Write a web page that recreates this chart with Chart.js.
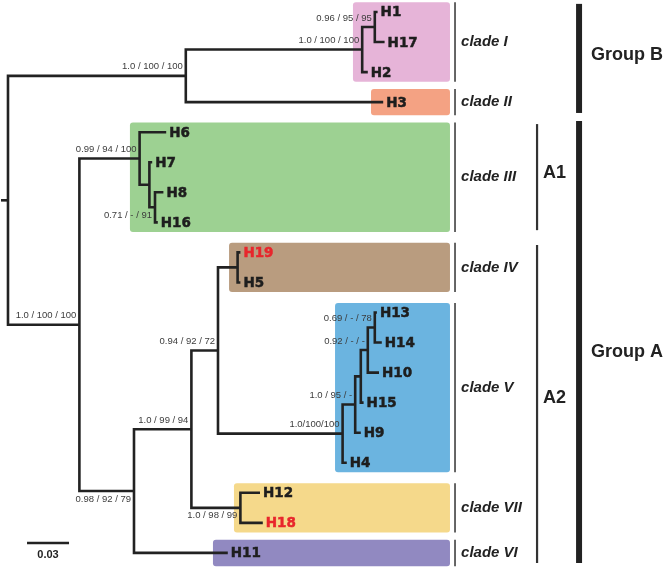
<!DOCTYPE html>
<html>
<head>
<meta charset="utf-8">
<script src="https://cdn.jsdelivr.net/npm/chart.js@4.4.1/dist/chart.umd.min.js"></script>
<style>
    html, body { margin: 0; padding: 0; background: #fff; }
    #wrap { width: 671px; height: 567px; }
</style>
</head>
<body>
<div id="wrap"><canvas id="tree" width="671" height="567"></canvas></div>
<script>
// leaves, top to bottom
const leafOrder = ['H1', 'H17', 'H2', 'H3', 'H6', 'H7', 'H8', 'H16', 'H19', 'H5',
    'H13', 'H14', 'H10', 'H15', 'H9', 'H4', 'H12', 'H18', 'H11'];
const redLeaves = ['H19', 'H18'];

// tree: node, parent, branch length (substitutions/site)
const nodeNames = ['root', 'B', 'I', 'I1', 'H1', 'H17', 'H2', 'H3',
    'A', 'III', 'H6', 'III1', 'H7', 'III2', 'H8', 'H16',
    'A2', 'X', 'H11', 'Y', 'VII', 'H12', 'H18', 'IV', 'H19', 'H5',
    'V', 'Va', 'H4', 'Vb', 'H9', 'Vc', 'H15', 'Vd', 'H10', 'H13', 'H14'];
const nodeParents = [null, 'root', 'B', 'I', 'I1', 'I1', 'I', 'B',
    'root', 'A', 'III', 'III', 'III1', 'III1', 'III2', 'III2',
    'A', 'A2', 'A2', 'X', 'X', 'VII', 'VII', 'Y', 'IV', 'IV',
    'Y', 'V', 'V', 'Va', 'Va', 'Vb', 'Vb', 'Vc', 'Vc', 'Vd', 'Vd'];
const branchLengths = [0, 0.127, 0.126, 0.009, 0.002, 0.007, 0.004, 0.141,
    0.051, 0.043, 0.019, 0.007, 0.002, 0.004, 0.006, 0.002,
    0.039, 0.041, 0.067, 0.019, 0.035, 0.014, 0.016, 0.014, 0.002, 0.002,
    0.089, 0.009, 0.003, 0.004, 0.004, 0.005, 0.002, 0.005, 0.008, 0.0015, 0.005];

// support values (PP / ML / MP)
const supportNodes = ['I1', 'I', 'B', 'III', 'III2', 'A', 'Y', 'Vd', 'Vc', 'Va', 'V', 'X', 'A2', 'VII'];
const supportLabels = ['0.96 / 95 / 95', '1.0 / 100 / 100', '1.0 / 100 / 100', '0.99 / 94 / 100',
    '0.71 / - / 91', '1.0 / 100 / 100', '0.94 / 92 / 72', '0.69 / - / 78', '0.92 / - / -',
    '1.0 / 95 / -', '1.0/100/100', '1.0 / 99 / 94', '0.98 / 92 / 79', '1.0 / 98 / 99'];
const supportBelow = ['III2', 'A2', 'VII'];

// clades
const cladeNames = ['clade I', 'clade II', 'clade III', 'clade IV', 'clade V', 'clade VII', 'clade VI'];
const cladeFirst = ['H1', 'H3', 'H6', 'H19', 'H13', 'H12', 'H11'];
const cladeLast = ['H2', 'H3', 'H16', 'H5', 'H4', 'H18', 'H11'];

const scaleBarLength = 0.03;

// layout (x in branch length units, y in leaf rows)
const layout = {
    xMin: -0.00571, xMax: 0.47357,
    yMin: -0.399, yMax: 18.469,
    rootStem: 0.005,
    boxStart: [0.2464, 0.2593, 0.0871, 0.1579, 0.2336, 0.1614, 0.1464],
    boxEnd: 0.3157,
    cladeLine: 0.3193,
    cladeText: 0.3236,
    subLine: 0.3779,
    subText: 0.3821,
    groupLine: 0.4079,
    groupText: 0.4164,
    scaleBarX: 0.0136, scaleBarY: 17.67
};
const boxColors = ['#e6b4d8', '#f4a283', '#9dd192', '#b99c7f', '#6bb4e0', '#f5d98b', '#9189c1'];
const subGroups = [
    { label: 'A1', from: 3.73, to: 7.26, at: 5.36 },
    { label: 'A2', from: 7.75, to: 18.34, at: 12.85 }
];
const groups = [
    { label: 'Group B', from: -0.27, to: 3.36, at: 1.43 },
    { label: 'Group A', from: 3.63, to: 18.34, at: 11.31 }
];

// ---- build tree geometry ----
const depth = {}, rowY = {}, children = {};
nodeNames.forEach(n => children[n] = []);
nodeNames.forEach((n, i) => {
    if (nodeParents[i]) children[nodeParents[i]].push(n);
});
nodeNames.forEach((n, i) => {
    depth[n] = nodeParents[i] ? depth[nodeParents[i]] + branchLengths[i] : branchLengths[i];
});
function placeY(n) {
    if (children[n].length === 0) {
        rowY[n] = leafOrder.indexOf(n);
        return rowY[n];
    }
    const ys = children[n].map(placeY);
    rowY[n] = (Math.min(...ys) + Math.max(...ys)) / 2;
    return rowY[n];
}
placeY('root');

const lineStyle = {
    showLine: true,
    borderColor: '#222',
    borderWidth: 2.6,
    pointRadius: 0,
    pointHoverRadius: 0,
    fill: false,
    tension: 0,
    borderJoinStyle: 'miter',
    borderCapStyle: 'butt'
};

const datasets = [];
nodeNames.forEach(n => {
    const kids = children[n];
    if (!kids.length) return;
    kids.sort((a, b) => rowY[a] - rowY[b]);
    const first = kids[0], last = kids[kids.length - 1];
    datasets.push(Object.assign({
        data: [
            { x: depth[first], y: rowY[first] },
            { x: depth[n], y: rowY[first] },
            { x: depth[n], y: rowY[last] },
            { x: depth[last], y: rowY[last] }
        ]
    }, lineStyle));
});
datasets.push(Object.assign({
    data: [{ x: depth.root - layout.rootStem, y: rowY.root }, { x: depth.root, y: rowY.root }]
}, lineStyle));
datasets.push(Object.assign({}, lineStyle, {
    data: [{ x: layout.scaleBarX, y: layout.scaleBarY }, { x: layout.scaleBarX + scaleBarLength, y: layout.scaleBarY }]
}));

function roundBox(ctx, x, y, w, h, r) {
    ctx.beginPath();
    ctx.moveTo(x + r, y);
    ctx.lineTo(x + w - r, y);
    ctx.quadraticCurveTo(x + w, y, x + w, y + r);
    ctx.lineTo(x + w, y + h - r);
    ctx.quadraticCurveTo(x + w, y + h, x + w - r, y + h);
    ctx.lineTo(x + r, y + h);
    ctx.quadraticCurveTo(x, y + h, x, y + h - r);
    ctx.lineTo(x, y + r);
    ctx.quadraticCurveTo(x, y, x + r, y);
    ctx.closePath();
}

function boxRows(i) {
    const a = leafOrder.indexOf(cladeFirst[i]), b = leafOrder.indexOf(cladeLast[i]);
    const pad = a === b ? 0.44 : 0.32;
    return [a - pad, b + pad];
}

const cladeBoxes = {
    id: 'cladeBoxes',
    beforeDatasetsDraw(chart) {
        const ctx = chart.ctx, xs = chart.scales.x, ys = chart.scales.y;
        ctx.save();
        cladeNames.forEach((c, i) => {
            const r = boxRows(i);
            const x0 = xs.getPixelForValue(layout.boxStart[i]);
            const x1 = xs.getPixelForValue(layout.boxEnd);
            const y0 = ys.getPixelForValue(r[0]);
            const y1 = ys.getPixelForValue(r[1]);
            ctx.fillStyle = boxColors[i];
            roundBox(ctx, x0, y0, x1 - x0, y1 - y0, 3);
            ctx.fill();
        });
        ctx.restore();
    }
};

const treeText = {
    id: 'treeText',
    afterDatasetsDraw(chart) {
        const ctx = chart.ctx, xs = chart.scales.x, ys = chart.scales.y;
        ctx.save();

        // leaf names (slight stroke to get the heavy look)
        ctx.font = "bold 13.5px 'DejaVu Sans'";
        ctx.textAlign = 'left';
        ctx.textBaseline = 'middle';
        ctx.lineWidth = 0.5;
        leafOrder.forEach(n => {
            const col = redLeaves.includes(n) ? '#e8262c' : '#1e1e1e';
            const px = xs.getPixelForValue(depth[n]) + 3;
            const py = ys.getPixelForValue(rowY[n]) + 1;
            ctx.fillStyle = col;
            ctx.strokeStyle = col;
            ctx.fillText(n, px, py);
            ctx.strokeText(n, px, py);
        });

        // support values
        ctx.font = "9.5px 'Liberation Sans'";
        ctx.fillStyle = '#3c3c3c';
        ctx.textAlign = 'right';
        supportNodes.forEach((n, i) => {
            const below = supportBelow.includes(n);
            ctx.fillText(supportLabels[i], xs.getPixelForValue(depth[n]) - 3,
                ys.getPixelForValue(rowY[n]) + (below ? 8 : -9));
        });

        // clade brackets
        ctx.textAlign = 'left';
        ctx.font = "italic bold 15px 'Liberation Sans'";
        ctx.strokeStyle = '#333';
        ctx.fillStyle = '#222';
        cladeNames.forEach((c, i) => {
            const r = boxRows(i);
            const x = xs.getPixelForValue(layout.cladeLine);
            ctx.lineWidth = 1.5;
            ctx.beginPath();
            ctx.moveTo(x, ys.getPixelForValue(r[0]));
            ctx.lineTo(x, ys.getPixelForValue(r[1]));
            ctx.stroke();
            ctx.fillText(c, xs.getPixelForValue(layout.cladeText), ys.getPixelForValue((r[0] + r[1]) / 2));
        });

        // A1 / A2
        ctx.font = "bold 18px 'Liberation Sans'";
        subGroups.forEach(g => {
            const x = xs.getPixelForValue(layout.subLine);
            ctx.lineWidth = 2.2;
            ctx.beginPath();
            ctx.moveTo(x, ys.getPixelForValue(g.from));
            ctx.lineTo(x, ys.getPixelForValue(g.to));
            ctx.stroke();
            ctx.fillText(g.label, xs.getPixelForValue(layout.subText), ys.getPixelForValue(g.at));
        });

        // Group A / B
        groups.forEach(g => {
            const x = xs.getPixelForValue(layout.groupLine);
            ctx.lineWidth = 6;
            ctx.strokeStyle = '#222';
            ctx.beginPath();
            ctx.moveTo(x, ys.getPixelForValue(g.from));
            ctx.lineTo(x, ys.getPixelForValue(g.to));
            ctx.stroke();
            ctx.fillText(g.label, xs.getPixelForValue(layout.groupText), ys.getPixelForValue(g.at));
        });

        // scale bar label
        ctx.font = "bold 11px 'Liberation Sans'";
        ctx.textAlign = 'center';
        ctx.fillText(String(scaleBarLength),
            xs.getPixelForValue(layout.scaleBarX + scaleBarLength / 2),
            ys.getPixelForValue(layout.scaleBarY) + 12);

        ctx.restore();
    }
};

new Chart(document.getElementById('tree'), {
    type: 'scatter',
    data: { datasets: datasets },
    options: {
        responsive: false,
        animation: false,
        events: [],
        layout: { padding: 0, autoPadding: false },
        plugins: {
            legend: { display: false },
            tooltip: { enabled: false }
        },
        scales: {
            x: { type: 'linear', display: false, min: layout.xMin, max: layout.xMax },
            y: { type: 'linear', display: false, reverse: true, min: layout.yMin, max: layout.yMax }
        }
    },
    plugins: [cladeBoxes, treeText]
});
</script>
</body>
</html>
